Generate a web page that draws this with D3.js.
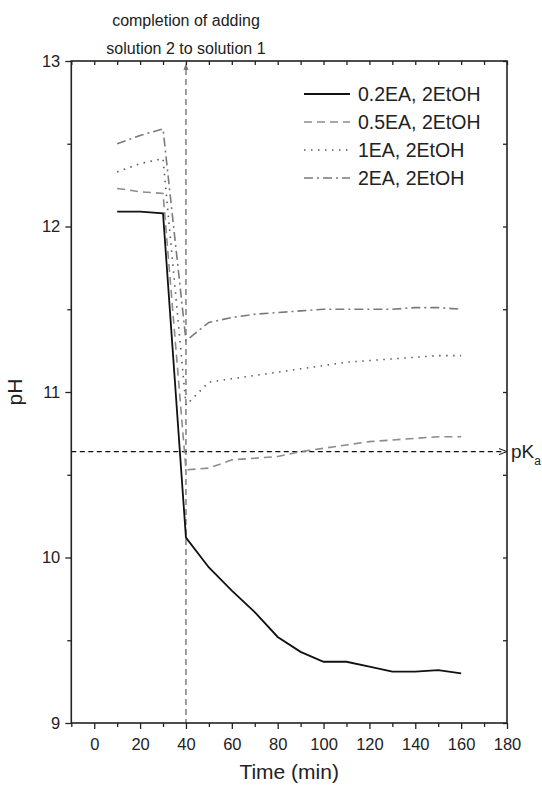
<!DOCTYPE html>
<html><head><meta charset="utf-8">
<script src="https://cdn.jsdelivr.net/npm/d3@7"></script>
<style>body{margin:0;background:#fff}text{font-family:"Liberation Sans",Arial,sans-serif}</style>
</head><body><svg id="c" width="542" height="786"></svg>
<script>
const time = [10,20,30,40,50,60,70,80,90,100,110,120,130,140,150,160];
const ph_02EA = [12.09,12.09,12.08,10.12,9.94,9.80,9.67,9.52,9.43,9.37,9.37,9.34,9.31,9.31,9.32,9.30];
const ph_05EA = [12.23,12.21,12.20,10.53,10.54,10.59,10.60,10.61,10.64,10.66,10.68,10.70,10.71,10.72,10.73,10.73];
const ph_1EA  = [12.33,12.38,12.41,10.92,11.06,11.08,11.10,11.12,11.14,11.16,11.18,11.19,11.20,11.21,11.22,11.22];
const ph_2EA  = [12.50,12.55,12.59,11.31,11.42,11.45,11.47,11.48,11.49,11.50,11.50,11.50,11.50,11.51,11.51,11.50];
const seriesNames = ["0.2EA, 2EtOH","0.5EA, 2EtOH","1EA, 2EtOH","2EA, 2EtOH"];
const xTicks = [0,20,40,60,80,100,120,140,160,180];
const yTicks = [9,10,11,12,13];
const pKa = 10.64;
const additionTime = 40;

const svg = d3.select("#c");
const x = d3.scaleLinear().domain([-10,180]).range([71.3,507]);
const y = d3.scaleLinear().domain([9,13]).range([723,61]);
const L=71.3,R=507,T=61,B=723;

const styles = [
  {color:"#111", dash:null, w:1.8},
  {color:"#8c8c8c", dash:"8,5", w:1.6},
  {color:"#5a5a5a", dash:"1.5,5.5", w:1.6},
  {color:"#7a7a7a", dash:"9,4,2,4", w:1.6}
];
const data = [ph_02EA,ph_05EA,ph_1EA,ph_2EA];

// annotation vertical line
svg.append("line").attr("x1",x(additionTime)).attr("x2",x(additionTime)).attr("y1",y(13)+8).attr("y2",B)
  .attr("stroke","#777").attr("stroke-width",1.4).attr("stroke-dasharray","6,4");
svg.append("path").attr("d",`M${x(additionTime)-2.5},${T+9} L${x(additionTime)},${T+2} L${x(additionTime)+2.5},${T+9}Z`).attr("fill","#777");

// pKa line
svg.append("line").attr("x1",L).attr("x2",R-2).attr("y1",y(pKa)).attr("y2",y(pKa))
  .attr("stroke","#111").attr("stroke-width",1.2).attr("stroke-dasharray","5,3.5");
svg.append("path").attr("d",`M${R-8},${y(pKa)-3} L${R},${y(pKa)} L${R-8},${y(pKa)+3}`).attr("fill","none").attr("stroke","#111").attr("stroke-width",1);
const pk = svg.append("text").attr("x",R+4).attr("y",y(pKa)+6).attr("font-size",19).attr("fill","#222");
pk.append("tspan").text("pK");
pk.append("tspan").attr("font-size",12).attr("dy",7).text("a");

// series
const line = d3.line().x((d,i)=>x(time[i])).y(d=>y(d));
data.forEach((s,k)=>{
  svg.append("path").datum(s).attr("d",line).attr("fill","none")
    .attr("stroke",styles[k].color).attr("stroke-width",styles[k].w)
    .attr("stroke-dasharray",styles[k].dash);
});

// axes
const g = svg.append("g");
g.append("g").attr("transform",`translate(0,${B})`)
  .call(d3.axisBottom(x).tickValues(xTicks).tickSize(6).tickPadding(9).tickFormat(d3.format("d")));
g.append("g").attr("transform",`translate(0,${B})`)
  .call(d3.axisBottom(x).tickValues([-10,10,30,50,70,90,110,130,150,170]).tickSize(4).tickFormat(""));
g.append("g").attr("transform",`translate(0,${T})`)
  .call(d3.axisBottom(x).tickValues(d3.range(-10,181,10)).tickSize(4).tickFormat(""));
g.append("g").attr("transform",`translate(${L},0)`)
  .call(d3.axisLeft(y).tickValues(yTicks).tickSize(6).tickPadding(5).tickFormat(d3.format("d")));
g.append("g").attr("transform",`translate(${L},0)`)
  .call(d3.axisLeft(y).tickValues([9.5,10.5,11.5,12.5]).tickSize(4).tickFormat(""));
g.append("g").attr("transform",`translate(${R},0)`)
  .call(d3.axisLeft(y).tickValues(d3.range(9,13.01,0.5)).tickSize(4).tickFormat(""));
g.selectAll(".domain").remove();
g.selectAll("line").attr("stroke","#222").attr("stroke-width",1.3);
g.selectAll("text").attr("font-size",16.5).attr("fill","#222").attr("font-family","Liberation Sans, Arial, sans-serif");
svg.append("rect").attr("x",L).attr("y",T).attr("width",R-L).attr("height",B-T)
  .attr("fill","none").attr("stroke","#222").attr("stroke-width",1.6);

// axis titles
svg.append("text").attr("x",(L+R)/2).attr("y",779).attr("text-anchor","middle").attr("font-size",21).attr("fill","#222").text("Time (min)");
svg.append("text").attr("transform",`translate(22,${(T+B)/2}) rotate(-90)`).attr("text-anchor","middle").attr("font-size",21).attr("fill","#222").text("pH");

// annotation text
svg.append("text").attr("x",x(additionTime)).attr("y",26).attr("text-anchor","middle").attr("font-size",16).attr("fill","#222").text("completion of adding");
svg.append("text").attr("x",x(additionTime)).attr("y",54).attr("text-anchor","middle").attr("font-size",16).attr("fill","#222").text("solution 2 to solution 1");

// legend
seriesNames.forEach((n,k)=>{
  const cy = 94 + k*28;
  svg.append("line").attr("x1",304).attr("x2",350).attr("y1",cy).attr("y2",cy)
    .attr("stroke",styles[k].color).attr("stroke-width",styles[k].w).attr("stroke-dasharray",styles[k].dash);
  svg.append("text").attr("x",358).attr("y",cy+7).attr("font-size",19.5).attr("fill","#222").text(n);
});
</script></body></html>
